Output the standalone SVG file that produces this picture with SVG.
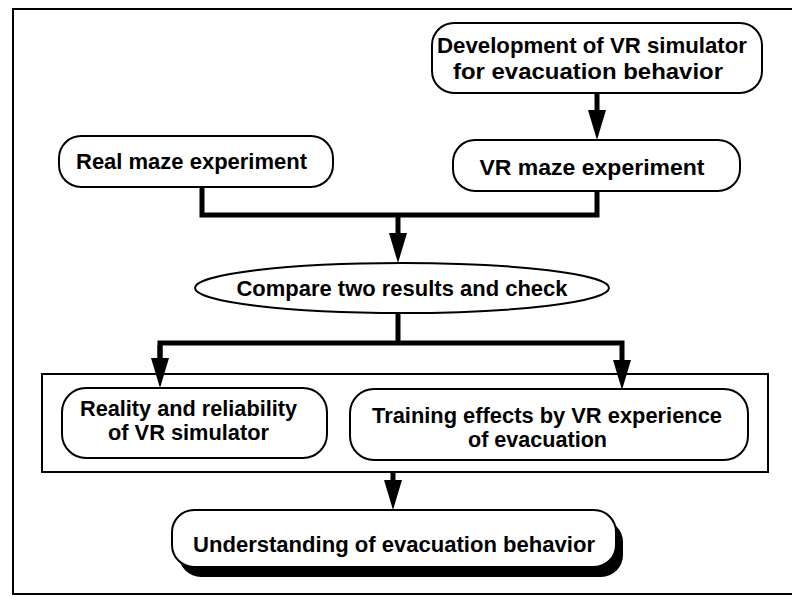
<svg xmlns="http://www.w3.org/2000/svg" width="792" height="597" viewBox="0 0 792 597">
<defs>
<style>
.node{fill:#fff;stroke:#000;stroke-width:2}
.conn{fill:none;stroke:#000;stroke-width:5;stroke-linejoin:miter}
.t{font-family:"Liberation Sans",Arial,Helvetica,sans-serif;font-weight:bold;font-size:22px;fill:#000}
</style>
<marker id="ah" viewBox="0 0 30 20" markerUnits="userSpaceOnUse" markerWidth="30" markerHeight="20" refX="14" refY="10" orient="auto">
<path d="M0,1 L30,10 L0,19 Z" fill="#000"/>
</marker>
</defs>
<rect x="0" y="0" width="792" height="597" fill="#fff"/>
<rect id="frame" x="13" y="9" width="800" height="585" fill="none" stroke="#000" stroke-width="2"/>

<g id="connectors">
<path class="conn" d="M597,93 V124" marker-end="url(#ah)"/>
<path class="conn" d="M202,187 V215 H597 V191"/>
<path class="conn" d="M398,215 V247" marker-end="url(#ah)"/>
<path class="conn" d="M398,313 V343"/>
<path class="conn" d="M160,372 V343 H622 V374" marker-end="url(#ah)"/>
<path class="conn" d="M160,345 V372" marker-end="url(#ah)"/>
<path class="conn" d="M393,472 V494" marker-end="url(#ah)"/>
</g>

<g id="group-box">
<rect x="42" y="374" width="726" height="98" fill="none" stroke="#000" stroke-width="2"/>
</g>

<g id="dev">
<rect class="node" x="432" y="23" width="330" height="70" rx="22"/>
<text class="t" x="592" y="53" text-anchor="middle" textLength="310" lengthAdjust="spacingAndGlyphs">Development of VR simulator</text>
<text class="t" x="588" y="79" text-anchor="middle" textLength="270" lengthAdjust="spacingAndGlyphs">for evacuation behavior</text>
</g>

<g id="real">
<rect class="node" x="59" y="136" width="274" height="51" rx="22"/>
<text class="t" x="191.5" y="169" text-anchor="middle" textLength="231" lengthAdjust="spacingAndGlyphs">Real maze experiment</text>
</g>

<g id="vr">
<rect class="node" x="453" y="140" width="287" height="51" rx="22"/>
<text class="t" x="592" y="175" text-anchor="middle" textLength="225" lengthAdjust="spacingAndGlyphs">VR maze experiment</text>
</g>

<g id="compare">
<ellipse class="node" cx="402" cy="288" rx="207" ry="25"/>
<text class="t" x="402" y="296" text-anchor="middle" textLength="331" lengthAdjust="spacingAndGlyphs">Compare two results and check</text>
</g>

<g id="reality">
<rect class="node" x="62" y="388" width="265" height="70" rx="24"/>
<text class="t" x="188.5" y="416" text-anchor="middle" textLength="217" lengthAdjust="spacingAndGlyphs">Reality and reliability</text>
<text class="t" x="188.5" y="440" text-anchor="middle" textLength="161" lengthAdjust="spacingAndGlyphs">of VR simulator</text>
</g>

<g id="training">
<rect class="node" x="350" y="389" width="398" height="71" rx="24"/>
<text class="t" x="547" y="423" text-anchor="middle" textLength="350" lengthAdjust="spacingAndGlyphs">Training effects by VR experience</text>
<text class="t" x="537.5" y="447" text-anchor="middle" textLength="139" lengthAdjust="spacingAndGlyphs">of evacuation</text>
</g>

<g id="understanding">
<rect x="179" y="520" width="444" height="57" rx="22" fill="#000"/>
<rect class="node" x="172" y="510" width="444" height="57" rx="22"/>
<text class="t" x="394" y="552" text-anchor="middle" textLength="402" lengthAdjust="spacingAndGlyphs">Understanding of evacuation behavior</text>
</g>
</svg>
